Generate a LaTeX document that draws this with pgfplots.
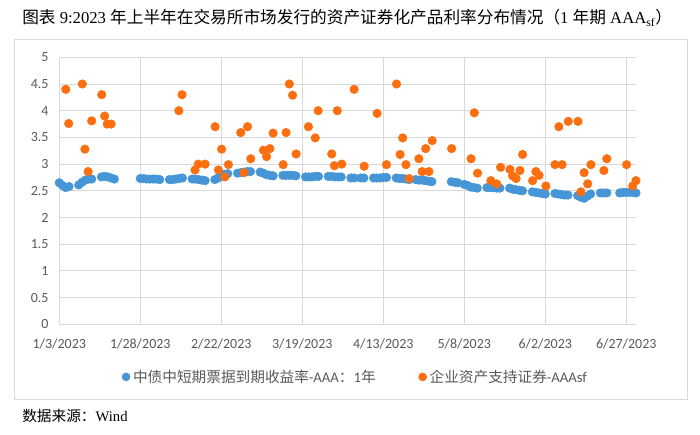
\documentclass[border=0pt]{standalone}
\usepackage{pgfplots}
\pgfplotsset{compat=1.18}
\usepackage{pgfplotstable}
\usepackage{fontspec}
\setmainfont{Liberation Serif}
\newfontfamily\cjk{Noto Sans CJK SC}
\newfontfamily\calib{Carlito}
\definecolor{serA}{RGB}{70,150,215}
\definecolor{serB}{RGB}{252,110,15}
\definecolor{gridc}{RGB}{217,217,217}
\definecolor{txt}{RGB}{89,89,89}

\pgfplotstableread{
d v
0 2.65
1 2.60
2 2.56
3 2.58
6 2.61
7 2.66
8 2.70
9 2.72
10 2.72
13 2.76
14 2.77
15 2.76
16 2.74
17 2.72
25 2.73
26 2.73
27 2.72
28 2.72
29 2.72
30 2.72
31 2.71
34 2.71
35 2.71
36 2.72
37 2.73
38 2.74
41 2.72
42 2.72
43 2.71
44 2.70
45 2.69
48 2.71
49 2.74
50 2.78
51 2.81
52 2.82
55 2.83
56 2.84
57 2.85
58 2.86
59 2.86
62 2.85
63 2.83
64 2.80
65 2.79
66 2.78
69 2.79
70 2.79
71 2.79
72 2.79
73 2.78
76 2.76
77 2.76
78 2.76
79 2.77
80 2.77
83 2.77
84 2.77
85 2.76
86 2.76
87 2.76
90 2.74
91 2.74
93 2.74
94 2.74
97 2.74
98 2.74
99 2.74
100 2.75
101 2.75
104 2.74
105 2.73
106 2.73
107 2.72
108 2.71
110 2.71
111 2.70
112 2.70
113 2.69
114 2.68
115 2.67
121 2.67
122 2.66
123 2.65
125 2.62
126 2.60
127 2.57
128 2.56
129 2.55
132 2.56
133 2.56
134 2.56
135 2.55
136 2.55
139 2.55
140 2.53
141 2.52
142 2.51
143 2.50
146 2.48
147 2.47
148 2.46
149 2.45
150 2.44
153 2.45
154 2.44
155 2.43
156 2.42
157 2.42
160 2.41
161 2.38
162 2.36
163 2.40
164 2.44
167 2.46
168 2.46
169 2.46
173 2.46
174 2.47
175 2.47
176 2.47
177 2.47
178 2.46
}\tblue

\pgfplotstableread{
d v
2.0 4.40
2.9 3.76
7.1 4.50
7.9 3.28
8.9 2.86
10.0 3.81
13.1 4.30
14.0 3.90
14.8 3.75
16.0 3.75
36.9 4.00
37.9 4.30
41.9 2.89
42.9 3.00
45.0 3.00
48.1 3.70
49.1 2.89
50.1 3.28
51.1 2.76
52.2 2.99
56.0 3.59
57.0 2.84
58.1 3.70
59.1 3.10
63.0 3.26
64.0 3.14
65.0 3.29
66.0 3.58
69.1 2.99
70.0 3.59
71.0 4.50
72.0 4.29
73.1 3.19
76.9 3.70
79.0 3.49
79.9 4.00
84.1 3.19
84.9 2.97
85.8 4.00
87.2 3.00
91.0 4.40
94.1 2.96
98.1 3.95
101.0 2.99
104.1 4.50
105.2 3.18
106.0 3.49
107.0 2.99
108.0 2.73
111.0 3.10
112.0 2.86
113.1 3.29
114.1 2.86
115.1 3.44
121.1 3.29
127.1 3.10
128.1 3.96
129.1 2.83
133.2 2.69
135.0 2.63
136.2 2.94
139.1 2.90
139.9 2.78
141.0 2.73
142.2 2.88
143.0 3.18
146.1 2.69
147.1 2.86
148.1 2.79
150.2 2.59
153.0 2.99
154.2 3.70
155.2 2.99
157.1 3.80
160.1 3.80
161.0 2.48
162.0 2.84
163.1 2.63
164.1 2.99
168.1 2.88
169.0 3.10
175.1 2.99
177.0 2.59
178.0 2.69
}\torange

\begin{document}
\begin{tikzpicture}
\path[use as bounding box] (0,0) rectangle (525pt,-326.25pt);
\draw[gridc, line width=0.75pt] (10.5pt,-30pt) rectangle (515.25pt,-299.25pt);
\node[anchor=base west, inner sep=0pt, font=\fontsize{12.5}{14}\selectfont] at (16.5pt,-18pt)
  {{\cjk 图表} 9:2023 {\cjk 年上半年在交易所市场发行的资产证券化产品利率分布情况（}1 {\cjk 年期} AAA\textsubscript{sf}{\cjk ）}};
\node[anchor=base west, inner sep=0pt, font=\fontsize{11}{13}\selectfont] at (16.5pt,-315.75pt)
  {{\cjk 数据来源：}Wind};
\begin{axis}[
  at={(44.475pt,-243.225pt)}, anchor=south west,
  scale only axis, width=432.5pt, height=200.25pt,
  xmin=0, xmax=178, ymin=0, ymax=5,
  xtick={0,25,50,75,100,125,150,175},
  xticklabels={1/3/2023,1/28/2023,2/22/2023,3/19/2023,4/13/2023,5/8/2023,6/2/2023,6/27/2023},
  ytick={0,0.5,1,1.5,2,2.5,3,3.5,4,4.5,5},
  yticklabels={0,0.5,1,1.5,2,2.5,3,3.5,4,4.5,5},
  grid=major, major grid style={gridc, line width=0.75pt},
  axis line style={draw=none}, tick style={draw=none},
  tick label style={font=\calib\fontsize{10.5}{12}\selectfont, text=txt},
  yticklabel style={xshift=-4.5pt},
  xticklabel style={yshift=-7pt},
  legend style={at={(0.514,-0.197)}, anchor=center, draw=none, fill=none,
    font=\fontsize{11}{13}\selectfont, text=txt,
    /tikz/every even column/.append style={column sep=30pt}},
  legend columns=2,
  legend image code/.code={\fill[#1] (0.15em,0) circle (3pt);},
  clip=false,
]
\addplot[only marks, mark=*, mark size=3.2pt, color=serA, mark options={fill=serA, draw=serA}] table[x=d,y=v] {\tblue};
\addlegendentry{{\cjk 中债中短期票据到期收益率}{\calib -AAA}{\cjk ：}{\calib 1}{\cjk 年}}
\addplot[only marks, mark=*, mark size=3.2pt, color=serB, mark options={fill=serB, draw=serB}] table[x=d,y=v] {\torange};
\addlegendentry{{\cjk 企业资产支持证券}{\calib -AAAsf}}
\end{axis}
\end{tikzpicture}
\end{document}
